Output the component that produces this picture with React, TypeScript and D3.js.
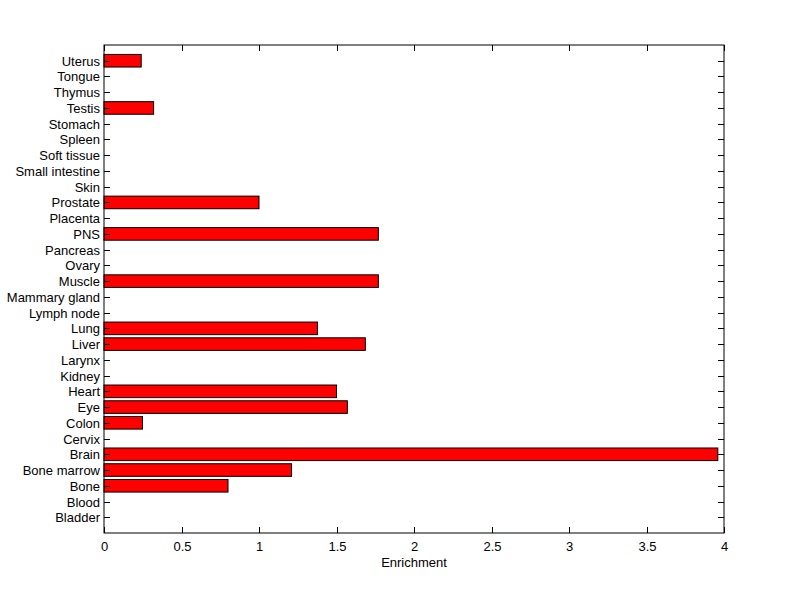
import React from "react";
import * as d3 from "d3";

const categories = [
  "Bladder", "Blood", "Bone", "Bone marrow", "Brain", "Cervix", "Colon", "Eye", "Heart", "Kidney",
  "Larynx", "Liver", "Lung", "Lymph node", "Mammary gland", "Muscle", "Ovary", "Pancreas", "PNS", "Placenta",
  "Prostate", "Skin", "Small intestine", "Soft tissue", "Spleen", "Stomach", "Testis", "Thymus", "Tongue", "Uterus",
];
const enrichment = [
  0, 0, 0.80, 1.21, 3.96, 0, 0.248, 1.57, 1.50, 0,
  0, 1.686, 1.377, 0, 0, 1.77, 0, 0, 1.77, 0,
  1.0, 0, 0, 0, 0, 0, 0.32, 0, 0, 0.24,
];
const xTicks = [0, 0.5, 1, 1.5, 2, 2.5, 3, 3.5, 4];
const xLabel = "Enrichment";

const W = 800, H = 599;
const L = 104, R = 724, T = 45, B = 533;
const font = "'Liberation Sans', Arial, Helvetica, sans-serif";
const fs = 13;

export default function App() {
  const x = d3.scaleLinear().domain([0, 4]).range([L, R]);
  const y = d3.scaleLinear().domain([0, categories.length + 1]).range([B, T]);
  const bw = 0.8;
  const tl = 6;
  return (
    <svg width={W} height={H} style={{ position: "absolute", left: 0, top: 0, background: "#fff" }}>
      <rect x={0} y={0} width={W} height={H} fill="#fff" />
      {categories.map((c, i) =>
        enrichment[i] > 0 ? (
          <rect key={c} x={x(0)} y={y(i + 1 + bw / 2)} width={x(enrichment[i]) - x(0)}
            height={y(i + 1 - bw / 2) - y(i + 1 + bw / 2)} fill="#ff0000" stroke="#000" strokeWidth={1} />
        ) : null
      )}
      <rect x={L} y={T} width={R - L} height={B - T} fill="none" stroke="#000" strokeWidth={1} />
      {categories.map((c, i) => {
        const yy = Math.round(y(i + 1)) + 0.5;
        return (
          <g key={"yt" + c}>
            <line x1={L} x2={L + tl} y1={yy} y2={yy} stroke="#000" />
            <line x1={R} x2={R - tl} y1={yy} y2={yy} stroke="#000" />
            <text x={L - 4} y={yy} textAnchor="end" dominantBaseline="central" fontFamily={font} fontSize={fs} fill="#000">{c}</text>
          </g>
        );
      })}
      {xTicks.map((t) => {
        const xx = Math.round(x(t)) + 0.5;
        return (
          <g key={"xt" + t}>
            <line x1={xx} x2={xx} y1={B} y2={B - tl} stroke="#000" />
            <line x1={xx} x2={xx} y1={T} y2={T + tl} stroke="#000" />
            <text x={xx} y={551} textAnchor="middle" fontFamily={font} fontSize={fs} fill="#000">{String(t)}</text>
          </g>
        );
      })}
      <text x={(L + R) / 2} y={567} textAnchor="middle" fontFamily={font} fontSize={fs} fill="#000">{xLabel}</text>
    </svg>
  );
}
